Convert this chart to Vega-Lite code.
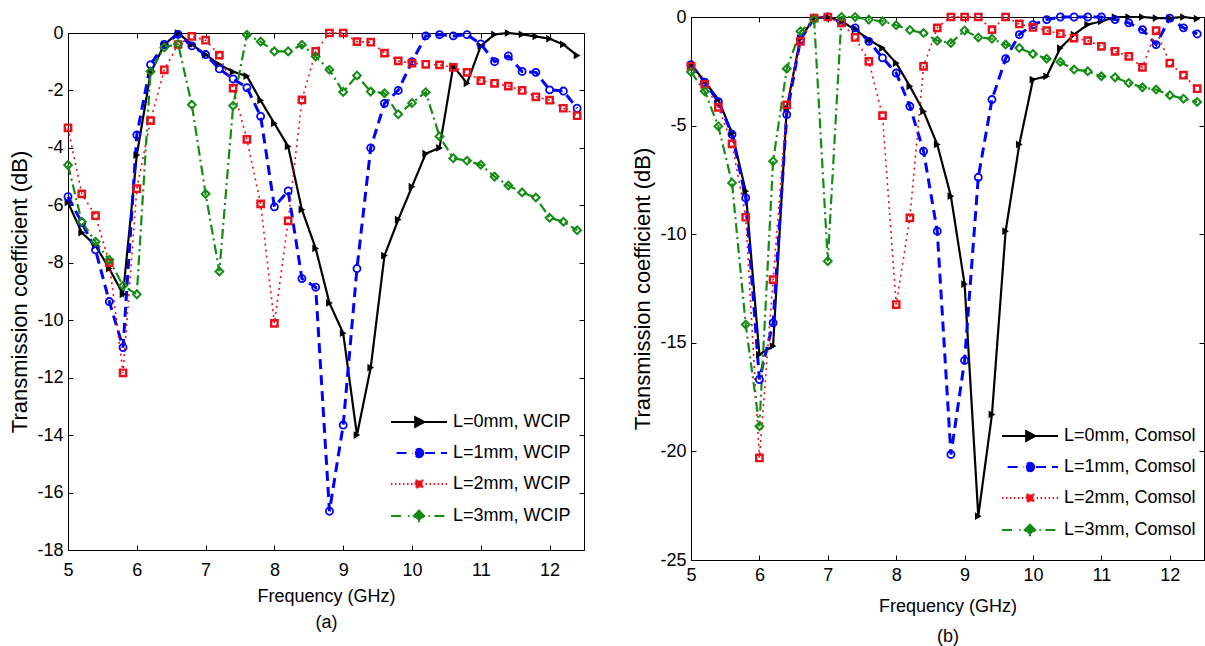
{
"$schema": "https://vega.github.io/schema/vega-lite/v6.json",
"padding": {"left": 8, "top": 7, "right": 0, "bottom": 0},
"spacing": 45,
"resolve": {"scale": {"color": "independent", "shape": "independent", "strokeDash": "independent"}, "legend": {"color": "independent", "shape": "independent", "strokeDash": "independent"}},
"config": {
  "font": "Liberation Sans",
  "view": {"stroke": "black", "strokeWidth": 1},
  "axis": {"grid": false, "domainColor": "black", "tickColor": "black", "labelColor": "black", "titleColor": "black", "labelFont": "Liberation Sans", "titleFont": "Liberation Sans", "labelFontSize": 18, "titleFontSize": 18, "titleFontWeight": "normal", "tickSize": -5, "labelFlush": false, "labelOverlap": false, "labelExpr": "'' + datum.value"},
  "legend": {"labelFont": "Liberation Sans", "labelFontSize": 18, "labelColor": "black"}
},
"datasets": {
"wcip": [
{"s":"L=0mm, WCIP","f":5,"v":-5.9},{"s":"L=0mm, WCIP","f":5.2,"v":-6.95},{"s":"L=0mm, WCIP","f":5.4,"v":-7.4},{"s":"L=0mm, WCIP","f":5.6,"v":-8.2},{"s":"L=0mm, WCIP","f":5.8,"v":-9.1},{"s":"L=0mm, WCIP","f":6,"v":-4.25},{"s":"L=0mm, WCIP","f":6.2,"v":-1.4},{"s":"L=0mm, WCIP","f":6.4,"v":-0.4},{"s":"L=0mm, WCIP","f":6.6,"v":0},{"s":"L=0mm, WCIP","f":6.8,"v":-0.4},{"s":"L=0mm, WCIP","f":7,"v":-0.75},{"s":"L=0mm, WCIP","f":7.2,"v":-1.1},{"s":"L=0mm, WCIP","f":7.4,"v":-1.35},{"s":"L=0mm, WCIP","f":7.6,"v":-1.5},{"s":"L=0mm, WCIP","f":7.8,"v":-2.35},{"s":"L=0mm, WCIP","f":8,"v":-3.15},{"s":"L=0mm, WCIP","f":8.2,"v":-3.95},{"s":"L=0mm, WCIP","f":8.4,"v":-6.15},{"s":"L=0mm, WCIP","f":8.6,"v":-7.5},{"s":"L=0mm, WCIP","f":8.8,"v":-9.4},{"s":"L=0mm, WCIP","f":9,"v":-10.45},{"s":"L=0mm, WCIP","f":9.2,"v":-14},{"s":"L=0mm, WCIP","f":9.4,"v":-11.65},{"s":"L=0mm, WCIP","f":9.6,"v":-7.75},{"s":"L=0mm, WCIP","f":9.8,"v":-6.5},{"s":"L=0mm, WCIP","f":10,"v":-5.35},{"s":"L=0mm, WCIP","f":10.2,"v":-4.2},{"s":"L=0mm, WCIP","f":10.4,"v":-4},{"s":"L=0mm, WCIP","f":10.6,"v":-1.15},{"s":"L=0mm, WCIP","f":10.8,"v":-1.75},{"s":"L=0mm, WCIP","f":11,"v":-0.45},{"s":"L=0mm, WCIP","f":11.2,"v":-0.05},{"s":"L=0mm, WCIP","f":11.4,"v":0},{"s":"L=0mm, WCIP","f":11.6,"v":-0.05},{"s":"L=0mm, WCIP","f":11.8,"v":-0.12},{"s":"L=0mm, WCIP","f":12,"v":-0.2},{"s":"L=0mm, WCIP","f":12.2,"v":-0.4},{"s":"L=0mm, WCIP","f":12.4,"v":-0.78},
{"s":"L=1mm, WCIP","f":5,"v":-5.7},{"s":"L=1mm, WCIP","f":5.2,"v":-6.6},{"s":"L=1mm, WCIP","f":5.4,"v":-7.55},{"s":"L=1mm, WCIP","f":5.6,"v":-9.35},{"s":"L=1mm, WCIP","f":5.8,"v":-10.95},{"s":"L=1mm, WCIP","f":6,"v":-3.55},{"s":"L=1mm, WCIP","f":6.2,"v":-1.1},{"s":"L=1mm, WCIP","f":6.4,"v":-0.4},{"s":"L=1mm, WCIP","f":6.6,"v":-0.05},{"s":"L=1mm, WCIP","f":6.8,"v":-0.45},{"s":"L=1mm, WCIP","f":7,"v":-0.75},{"s":"L=1mm, WCIP","f":7.2,"v":-1.25},{"s":"L=1mm, WCIP","f":7.4,"v":-1.6},{"s":"L=1mm, WCIP","f":7.6,"v":-1.9},{"s":"L=1mm, WCIP","f":7.8,"v":-2.9},{"s":"L=1mm, WCIP","f":8,"v":-6.05},{"s":"L=1mm, WCIP","f":8.2,"v":-5.5},{"s":"L=1mm, WCIP","f":8.4,"v":-8.55},{"s":"L=1mm, WCIP","f":8.6,"v":-8.85},{"s":"L=1mm, WCIP","f":8.8,"v":-16.65},{"s":"L=1mm, WCIP","f":9,"v":-13.65},{"s":"L=1mm, WCIP","f":9.2,"v":-8.2},{"s":"L=1mm, WCIP","f":9.4,"v":-4},{"s":"L=1mm, WCIP","f":9.6,"v":-2.45},{"s":"L=1mm, WCIP","f":9.8,"v":-2},{"s":"L=1mm, WCIP","f":10,"v":-1},{"s":"L=1mm, WCIP","f":10.2,"v":-0.1},{"s":"L=1mm, WCIP","f":10.4,"v":-0.06},{"s":"L=1mm, WCIP","f":10.6,"v":-0.1},{"s":"L=1mm, WCIP","f":10.8,"v":-0.06},{"s":"L=1mm, WCIP","f":11,"v":-0.38},{"s":"L=1mm, WCIP","f":11.2,"v":-1},{"s":"L=1mm, WCIP","f":11.4,"v":-0.8},{"s":"L=1mm, WCIP","f":11.6,"v":-1.34},{"s":"L=1mm, WCIP","f":11.8,"v":-1.37},{"s":"L=1mm, WCIP","f":12,"v":-1.98},{"s":"L=1mm, WCIP","f":12.2,"v":-2.02},{"s":"L=1mm, WCIP","f":12.4,"v":-2.62},
{"s":"L=2mm, WCIP","f":5,"v":-3.3},{"s":"L=2mm, WCIP","f":5.2,"v":-5.6},{"s":"L=2mm, WCIP","f":5.4,"v":-6.36},{"s":"L=2mm, WCIP","f":5.6,"v":-8},{"s":"L=2mm, WCIP","f":5.8,"v":-11.83},{"s":"L=2mm, WCIP","f":6,"v":-5.42},{"s":"L=2mm, WCIP","f":6.2,"v":-3.05},{"s":"L=2mm, WCIP","f":6.4,"v":-1.28},{"s":"L=2mm, WCIP","f":6.6,"v":-0.4},{"s":"L=2mm, WCIP","f":6.8,"v":-0.12},{"s":"L=2mm, WCIP","f":7,"v":-0.25},{"s":"L=2mm, WCIP","f":7.2,"v":-0.77},{"s":"L=2mm, WCIP","f":7.4,"v":-1.92},{"s":"L=2mm, WCIP","f":7.6,"v":-3.7},{"s":"L=2mm, WCIP","f":7.8,"v":-5.95},{"s":"L=2mm, WCIP","f":8,"v":-10.11},{"s":"L=2mm, WCIP","f":8.2,"v":-6.54},{"s":"L=2mm, WCIP","f":8.4,"v":-2.33},{"s":"L=2mm, WCIP","f":8.6,"v":-0.64},{"s":"L=2mm, WCIP","f":8.8,"v":0},{"s":"L=2mm, WCIP","f":9,"v":0},{"s":"L=2mm, WCIP","f":9.2,"v":-0.3},{"s":"L=2mm, WCIP","f":9.4,"v":-0.32},{"s":"L=2mm, WCIP","f":9.6,"v":-0.7},{"s":"L=2mm, WCIP","f":9.8,"v":-0.97},{"s":"L=2mm, WCIP","f":10,"v":-1.05},{"s":"L=2mm, WCIP","f":10.2,"v":-1.09},{"s":"L=2mm, WCIP","f":10.4,"v":-1.11},{"s":"L=2mm, WCIP","f":10.6,"v":-1.2},{"s":"L=2mm, WCIP","f":10.8,"v":-1.37},{"s":"L=2mm, WCIP","f":11,"v":-1.66},{"s":"L=2mm, WCIP","f":11.2,"v":-1.75},{"s":"L=2mm, WCIP","f":11.4,"v":-1.85},{"s":"L=2mm, WCIP","f":11.6,"v":-2},{"s":"L=2mm, WCIP","f":11.8,"v":-2.22},{"s":"L=2mm, WCIP","f":12,"v":-2.34},{"s":"L=2mm, WCIP","f":12.2,"v":-2.62},{"s":"L=2mm, WCIP","f":12.4,"v":-2.88},
{"s":"L=3mm, WCIP","f":5,"v":-4.6},{"s":"L=3mm, WCIP","f":5.2,"v":-6.57},{"s":"L=3mm, WCIP","f":5.4,"v":-7.27},{"s":"L=3mm, WCIP","f":5.6,"v":-7.9},{"s":"L=3mm, WCIP","f":5.8,"v":-8.8},{"s":"L=3mm, WCIP","f":6,"v":-9.1},{"s":"L=3mm, WCIP","f":6.2,"v":-1.34},{"s":"L=3mm, WCIP","f":6.4,"v":-0.5},{"s":"L=3mm, WCIP","f":6.6,"v":-0.38},{"s":"L=3mm, WCIP","f":6.8,"v":-2.5},{"s":"L=3mm, WCIP","f":7,"v":-5.6},{"s":"L=3mm, WCIP","f":7.2,"v":-8.3},{"s":"L=3mm, WCIP","f":7.4,"v":-2.53},{"s":"L=3mm, WCIP","f":7.6,"v":-0.06},{"s":"L=3mm, WCIP","f":7.8,"v":-0.3},{"s":"L=3mm, WCIP","f":8,"v":-0.64},{"s":"L=3mm, WCIP","f":8.2,"v":-0.64},{"s":"L=3mm, WCIP","f":8.4,"v":-0.41},{"s":"L=3mm, WCIP","f":8.6,"v":-0.82},{"s":"L=3mm, WCIP","f":8.8,"v":-1.28},{"s":"L=3mm, WCIP","f":9,"v":-2.05},{"s":"L=3mm, WCIP","f":9.2,"v":-1.48},{"s":"L=3mm, WCIP","f":9.4,"v":-2.04},{"s":"L=3mm, WCIP","f":9.6,"v":-2.1},{"s":"L=3mm, WCIP","f":9.8,"v":-2.83},{"s":"L=3mm, WCIP","f":10,"v":-2.44},{"s":"L=3mm, WCIP","f":10.2,"v":-2.06},{"s":"L=3mm, WCIP","f":10.4,"v":-3.6},{"s":"L=3mm, WCIP","f":10.6,"v":-4.36},{"s":"L=3mm, WCIP","f":10.8,"v":-4.45},{"s":"L=3mm, WCIP","f":11,"v":-4.59},{"s":"L=3mm, WCIP","f":11.2,"v":-5},{"s":"L=3mm, WCIP","f":11.4,"v":-5.31},{"s":"L=3mm, WCIP","f":11.6,"v":-5.55},{"s":"L=3mm, WCIP","f":11.8,"v":-5.73},{"s":"L=3mm, WCIP","f":12,"v":-6.43},{"s":"L=3mm, WCIP","f":12.2,"v":-6.57},{"s":"L=3mm, WCIP","f":12.4,"v":-6.87}
],
"comsol": [
{"s":"L=0mm, Comsol","f":5,"v":-2.19},{"s":"L=0mm, Comsol","f":5.2,"v":-2.96},{"s":"L=0mm, Comsol","f":5.4,"v":-3.8},{"s":"L=0mm, Comsol","f":5.6,"v":-5.34},{"s":"L=0mm, Comsol","f":5.8,"v":-8.02},{"s":"L=0mm, Comsol","f":6,"v":-15.54},{"s":"L=0mm, Comsol","f":6.2,"v":-15.15},{"s":"L=0mm, Comsol","f":6.4,"v":-4.19},{"s":"L=0mm, Comsol","f":6.6,"v":-0.97},{"s":"L=0mm, Comsol","f":6.8,"v":-0.05},{"s":"L=0mm, Comsol","f":7,"v":0},{"s":"L=0mm, Comsol","f":7.2,"v":-0.2},{"s":"L=0mm, Comsol","f":7.4,"v":-0.58},{"s":"L=0mm, Comsol","f":7.6,"v":-1.04},{"s":"L=0mm, Comsol","f":7.8,"v":-1.43},{"s":"L=0mm, Comsol","f":8,"v":-2.12},{"s":"L=0mm, Comsol","f":8.2,"v":-3.19},{"s":"L=0mm, Comsol","f":8.4,"v":-4.34},{"s":"L=0mm, Comsol","f":8.6,"v":-5.87},{"s":"L=0mm, Comsol","f":8.8,"v":-8.25},{"s":"L=0mm, Comsol","f":9,"v":-12.3},{"s":"L=0mm, Comsol","f":9.2,"v":-22.98},{"s":"L=0mm, Comsol","f":9.4,"v":-18.3},{"s":"L=0mm, Comsol","f":9.6,"v":-9.86},{"s":"L=0mm, Comsol","f":9.8,"v":-5.87},{"s":"L=0mm, Comsol","f":10,"v":-2.88},{"s":"L=0mm, Comsol","f":10.2,"v":-2.73},{"s":"L=0mm, Comsol","f":10.4,"v":-1.43},{"s":"L=0mm, Comsol","f":10.6,"v":-0.81},{"s":"L=0mm, Comsol","f":10.8,"v":-0.35},{"s":"L=0mm, Comsol","f":11,"v":-0.2},{"s":"L=0mm, Comsol","f":11.2,"v":0},{"s":"L=0mm, Comsol","f":11.4,"v":0},{"s":"L=0mm, Comsol","f":11.6,"v":0},{"s":"L=0mm, Comsol","f":11.8,"v":-0.05},{"s":"L=0mm, Comsol","f":12,"v":-0.05},{"s":"L=0mm, Comsol","f":12.2,"v":0},{"s":"L=0mm, Comsol","f":12.4,"v":-0.08},
{"s":"L=1mm, Comsol","f":5,"v":-2.2},{"s":"L=1mm, Comsol","f":5.2,"v":-3},{"s":"L=1mm, Comsol","f":5.4,"v":-3.9},{"s":"L=1mm, Comsol","f":5.6,"v":-5.4},{"s":"L=1mm, Comsol","f":5.8,"v":-8.33},{"s":"L=1mm, Comsol","f":6,"v":-16.69},{"s":"L=1mm, Comsol","f":6.2,"v":-14.08},{"s":"L=1mm, Comsol","f":6.4,"v":-4.49},{"s":"L=1mm, Comsol","f":6.6,"v":-1.04},{"s":"L=1mm, Comsol","f":6.8,"v":-0.05},{"s":"L=1mm, Comsol","f":7,"v":0},{"s":"L=1mm, Comsol","f":7.2,"v":-0.27},{"s":"L=1mm, Comsol","f":7.4,"v":-0.5},{"s":"L=1mm, Comsol","f":7.6,"v":-1.12},{"s":"L=1mm, Comsol","f":7.8,"v":-1.88},{"s":"L=1mm, Comsol","f":8,"v":-2.58},{"s":"L=1mm, Comsol","f":8.2,"v":-4.11},{"s":"L=1mm, Comsol","f":8.4,"v":-6.18},{"s":"L=1mm, Comsol","f":8.6,"v":-9.86},{"s":"L=1mm, Comsol","f":8.8,"v":-20.14},{"s":"L=1mm, Comsol","f":9,"v":-15.81},{"s":"L=1mm, Comsol","f":9.2,"v":-7.38},{"s":"L=1mm, Comsol","f":9.4,"v":-3.8},{"s":"L=1mm, Comsol","f":9.6,"v":-1.92},{"s":"L=1mm, Comsol","f":9.8,"v":-0.81},{"s":"L=1mm, Comsol","f":10,"v":-0.35},{"s":"L=1mm, Comsol","f":10.2,"v":-0.12},{"s":"L=1mm, Comsol","f":10.4,"v":0},{"s":"L=1mm, Comsol","f":10.6,"v":0},{"s":"L=1mm, Comsol","f":10.8,"v":0},{"s":"L=1mm, Comsol","f":11,"v":0},{"s":"L=1mm, Comsol","f":11.2,"v":-0.12},{"s":"L=1mm, Comsol","f":11.4,"v":-0.27},{"s":"L=1mm, Comsol","f":11.6,"v":-0.58},{"s":"L=1mm, Comsol","f":11.8,"v":-1.27},{"s":"L=1mm, Comsol","f":12,"v":-0.05},{"s":"L=1mm, Comsol","f":12.2,"v":-0.5},{"s":"L=1mm, Comsol","f":12.4,"v":-0.78},
{"s":"L=2mm, Comsol","f":5,"v":-2.27},{"s":"L=2mm, Comsol","f":5.2,"v":-3.1},{"s":"L=2mm, Comsol","f":5.4,"v":-4.16},{"s":"L=2mm, Comsol","f":5.6,"v":-5.84},{"s":"L=2mm, Comsol","f":5.8,"v":-9.22},{"s":"L=2mm, Comsol","f":6,"v":-20.3},{"s":"L=2mm, Comsol","f":6.2,"v":-12.09},{"s":"L=2mm, Comsol","f":6.4,"v":-4.05},{"s":"L=2mm, Comsol","f":6.6,"v":-1.12},{"s":"L=2mm, Comsol","f":6.8,"v":-0.05},{"s":"L=2mm, Comsol","f":7,"v":0},{"s":"L=2mm, Comsol","f":7.2,"v":-0.27},{"s":"L=2mm, Comsol","f":7.4,"v":-0.94},{"s":"L=2mm, Comsol","f":7.6,"v":-2.04},{"s":"L=2mm, Comsol","f":7.8,"v":-4.54},{"s":"L=2mm, Comsol","f":8,"v":-13.24},{"s":"L=2mm, Comsol","f":8.2,"v":-9.25},{"s":"L=2mm, Comsol","f":8.4,"v":-2.27},{"s":"L=2mm, Comsol","f":8.6,"v":-0.5},{"s":"L=2mm, Comsol","f":8.8,"v":0},{"s":"L=2mm, Comsol","f":9,"v":0},{"s":"L=2mm, Comsol","f":9.2,"v":0},{"s":"L=2mm, Comsol","f":9.4,"v":-0.58},{"s":"L=2mm, Comsol","f":9.6,"v":0},{"s":"L=2mm, Comsol","f":9.8,"v":-0.32},{"s":"L=2mm, Comsol","f":10,"v":-0.48},{"s":"L=2mm, Comsol","f":10.2,"v":-0.63},{"s":"L=2mm, Comsol","f":10.4,"v":-0.77},{"s":"L=2mm, Comsol","f":10.6,"v":-0.97},{"s":"L=2mm, Comsol","f":10.8,"v":-1.09},{"s":"L=2mm, Comsol","f":11,"v":-1.35},{"s":"L=2mm, Comsol","f":11.2,"v":-1.58},{"s":"L=2mm, Comsol","f":11.4,"v":-1.81},{"s":"L=2mm, Comsol","f":11.6,"v":-2.32},{"s":"L=2mm, Comsol","f":11.8,"v":-0.63},{"s":"L=2mm, Comsol","f":12,"v":-2.12},{"s":"L=2mm, Comsol","f":12.2,"v":-2.68},{"s":"L=2mm, Comsol","f":12.4,"v":-3.3},
{"s":"L=3mm, Comsol","f":5,"v":-2.53},{"s":"L=3mm, Comsol","f":5.2,"v":-3.42},{"s":"L=3mm, Comsol","f":5.4,"v":-5.03},{"s":"L=3mm, Comsol","f":5.6,"v":-7.64},{"s":"L=3mm, Comsol","f":5.8,"v":-14.16},{"s":"L=3mm, Comsol","f":6,"v":-18.84},{"s":"L=3mm, Comsol","f":6.2,"v":-6.64},{"s":"L=3mm, Comsol","f":6.4,"v":-2.38},{"s":"L=3mm, Comsol","f":6.6,"v":-0.66},{"s":"L=3mm, Comsol","f":6.8,"v":-0.12},{"s":"L=3mm, Comsol","f":7,"v":-11.24},{"s":"L=3mm, Comsol","f":7.2,"v":0},{"s":"L=3mm, Comsol","f":7.4,"v":0},{"s":"L=3mm, Comsol","f":7.6,"v":-0.12},{"s":"L=3mm, Comsol","f":7.8,"v":-0.2},{"s":"L=3mm, Comsol","f":8,"v":-0.38},{"s":"L=3mm, Comsol","f":8.2,"v":-0.6},{"s":"L=3mm, Comsol","f":8.4,"v":-0.74},{"s":"L=3mm, Comsol","f":8.6,"v":-1.09},{"s":"L=3mm, Comsol","f":8.8,"v":-1.2},{"s":"L=3mm, Comsol","f":9,"v":-0.62},{"s":"L=3mm, Comsol","f":9.2,"v":-0.94},{"s":"L=3mm, Comsol","f":9.4,"v":-1},{"s":"L=3mm, Comsol","f":9.6,"v":-1.27},{"s":"L=3mm, Comsol","f":9.8,"v":-1.43},{"s":"L=3mm, Comsol","f":10,"v":-1.7},{"s":"L=3mm, Comsol","f":10.2,"v":-1.92},{"s":"L=3mm, Comsol","f":10.4,"v":-2.07},{"s":"L=3mm, Comsol","f":10.6,"v":-2.42},{"s":"L=3mm, Comsol","f":10.8,"v":-2.5},{"s":"L=3mm, Comsol","f":11,"v":-2.73},{"s":"L=3mm, Comsol","f":11.2,"v":-2.78},{"s":"L=3mm, Comsol","f":11.4,"v":-3.04},{"s":"L=3mm, Comsol","f":11.6,"v":-3.24},{"s":"L=3mm, Comsol","f":11.8,"v":-3.34},{"s":"L=3mm, Comsol","f":12,"v":-3.6},{"s":"L=3mm, Comsol","f":12.2,"v":-3.76},{"s":"L=3mm, Comsol","f":12.4,"v":-3.91}
]
},
"hconcat": [
{
 "spacing": 0,
 "vconcat": [
 {"width": 516, "height": 6, "data": {"values": []}, "mark": "point", "view": {"stroke": null}},
 {
  "width": 516, "height": 517,
  "data": {"name": "wcip"},
  "resolve": {"axis": {"x": "independent", "y": "independent"}},
  "layer": [
    {"mark": {"type": "line"},
     "encoding": {
      "x": {"field": "f", "type": "quantitative", "scale": {"domain": [5, 12.5], "nice": false, "zero": false}, "axis": {"values": [5,6,7,8,9,10,11,12], "title": ["Frequency (GHz)", "(a)"], "labelPadding": 16, "titlePadding": 8, "titleLineHeight": 26}},
      "y": {"field": "v", "type": "quantitative", "scale": {"domain": [-18, 0], "nice": false}, "axis": {"values": [0,-2,-4,-6,-8,-10,-12,-14,-16,-18], "title": "Transmission coefficient (dB)", "titleFontSize": 22, "labelPadding": 10, "titlePadding": 5}},
      "color": {"field": "s", "type": "nominal", "scale": {"domain": ["L=0mm, WCIP","L=1mm, WCIP","L=2mm, WCIP","L=3mm, WCIP"], "range": ["#000000","#0000ff","#e8101a","#148c14"]}},
      "strokeDash": {"field": "s", "type": "nominal", "scale": {"domain": ["L=0mm, WCIP","L=1mm, WCIP","L=2mm, WCIP","L=3mm, WCIP"], "range": [[1,0],[10,6],[2,4],[10,4,2,4]]}, "legend": null},
      "strokeWidth": {"condition": [{"test": "datum.s == 'L=1mm, WCIP'", "value": 3}, {"test": "datum.s == 'L=2mm, WCIP'", "value": 1.6}], "value": 2.2}
     }},
    {"transform": [{"filter": "datum.s == 'L=0mm, WCIP'"}],
     "mark": {"type": "point", "shape": "triangle-right", "filled": true, "size": 60, "opacity": 1},
     "encoding": {"x": {"field": "f", "type": "quantitative", "axis": null}, "y": {"field": "v", "type": "quantitative", "axis": null},
      "color": {"field": "s", "type": "nominal"}}},
    {"transform": [{"filter": "datum.s == 'L=1mm, WCIP'"}],
     "mark": {"type": "point", "shape": "circle", "filled": false, "size": 50, "strokeWidth": 1.8, "opacity": 1},
     "encoding": {"x": {"field": "f", "type": "quantitative", "axis": null}, "y": {"field": "v", "type": "quantitative", "axis": null},
      "color": {"field": "s", "type": "nominal"}}},
    {"transform": [{"filter": "datum.s == 'L=2mm, WCIP'"}],
     "mark": {"type": "point", "shape": "square", "filled": false, "size": 40, "strokeWidth": 2.4, "opacity": 1},
     "encoding": {"x": {"field": "f", "type": "quantitative", "axis": null}, "y": {"field": "v", "type": "quantitative", "axis": null},
      "color": {"field": "s", "type": "nominal"}}},
    {"transform": [{"filter": "datum.s == 'L=3mm, WCIP'"}],
     "mark": {"type": "point", "shape": "diamond", "filled": false, "size": 60, "strokeWidth": 2, "opacity": 1},
     "encoding": {"x": {"field": "f", "type": "quantitative", "axis": null}, "y": {"field": "v", "type": "quantitative", "axis": null},
      "color": {"field": "s", "type": "nominal"}}},
    {"transform": [{"filter": "false"}],
     "mark": {"type": "point", "filled": false, "size": 196, "strokeWidth": 2, "opacity": 1},
     "encoding": {
      "x": {"field": "f", "type": "quantitative", "axis": {"orient": "top", "labels": false, "title": null, "values": [5,6,7,8,9,10,11,12]}},
      "y": {"field": "v", "type": "quantitative", "axis": {"orient": "right", "labels": false, "title": null, "values": [0,-2,-4,-6,-8,-10,-12,-14,-16,-18]}},
      "color": {"field": "s", "type": "nominal", "legend": {"orient": "none", "legendX": 342, "legendY": 396, "title": null, "labelOffset": 25, "rowPadding": 13, "symbolSize": 196, "symbolStrokeWidth": 2, "padding": 0,
         "encode": {"symbols": {"fill": {"condition": [{"test": "indexof(datum.value,'0mm')>=0", "value": "#000000"}, {"test": "indexof(datum.value,'3mm')>=0", "value": "#148c14"}], "value": "#ffffff"}}}}},
      "shape": {"field": "s", "type": "nominal", "scale": {"domain": ["L=0mm, WCIP","L=1mm, WCIP","L=2mm, WCIP","L=3mm, WCIP"], "range": [
         "M-4,0H4M-0.55,-0.7L0.75,0L-0.55,0.7Z",
         "M-3.2,0H-0.85M0.85,0H4M0.6,0A0.6,0.6,0,1,1,-0.6,0A0.6,0.6,0,1,1,0.6,0Z",
         "M-4,0H-3.8M-3.43,0H-3.23M-2.86,0H-2.66M-2.29,0H-2.09M-1.71,0H-1.51M-1.14,0H-0.94M0.94,0H1.14M1.51,0H1.71M2.09,0H2.29M2.66,0H2.86M3.23,0H3.43M3.8,0H4M-0.5,-0.5H0.5V0.5H-0.5Z",
         "M-4,0H-2.2M-1.55,0H-1.35M1.35,0H1.55M2.2,0H4M0,-0.75L0.75,0L0,0.75L-0.75,0Z"]},
         "legend": {"orient": "none", "legendX": 342, "legendY": 396, "title": null, "labelOffset": 25, "rowPadding": 13, "symbolSize": 196, "symbolStrokeWidth": 2, "padding": 0,
         "encode": {"symbols": {"fill": {"condition": [{"test": "indexof(datum.value,'0mm')>=0", "value": "#000000"}, {"test": "indexof(datum.value,'3mm')>=0", "value": "#148c14"}], "value": "#ffffff"}}}}}
     }}
  ]
 }
 ]
},
{
  "width": 513, "height": 543,
  "data": {"name": "comsol"},
  "resolve": {"axis": {"x": "independent", "y": "independent"}},
  "layer": [
    {"mark": {"type": "line"},
     "encoding": {
      "x": {"field": "f", "type": "quantitative", "scale": {"domain": [5, 12.5], "nice": false, "zero": false}, "axis": {"values": [5,6,7,8,9,10,11,12], "title": ["Frequency (GHz)", "(b)"], "labelPadding": 11, "titlePadding": 13, "titleLineHeight": 30}},
      "y": {"field": "v", "type": "quantitative", "scale": {"domain": [-25, 0], "nice": false}, "axis": {"values": [0,-5,-10,-15,-20,-25], "title": "Transmission coefficient (dB)", "titleFontSize": 22, "labelPadding": 10, "titlePadding": 5}},
      "color": {"field": "s", "type": "nominal", "scale": {"domain": ["L=0mm, Comsol","L=1mm, Comsol","L=2mm, Comsol","L=3mm, Comsol"], "range": ["#000000","#0000ff","#e8101a","#148c14"]}},
      "strokeDash": {"field": "s", "type": "nominal", "scale": {"domain": ["L=0mm, Comsol","L=1mm, Comsol","L=2mm, Comsol","L=3mm, Comsol"], "range": [[1,0],[10,6],[2,4],[10,4,2,4]]}, "legend": null},
      "strokeWidth": {"condition": [{"test": "datum.s == 'L=1mm, Comsol'", "value": 3}, {"test": "datum.s == 'L=2mm, Comsol'", "value": 1.6}], "value": 2.2}
     }},
    {"transform": [{"filter": "datum.s == 'L=0mm, Comsol'"}],
     "mark": {"type": "point", "shape": "triangle-right", "filled": true, "size": 60, "opacity": 1},
     "encoding": {"x": {"field": "f", "type": "quantitative", "axis": null}, "y": {"field": "v", "type": "quantitative", "axis": null},
      "color": {"field": "s", "type": "nominal"}}},
    {"transform": [{"filter": "datum.s == 'L=1mm, Comsol'"}],
     "mark": {"type": "point", "shape": "circle", "filled": false, "size": 50, "strokeWidth": 1.8, "opacity": 1},
     "encoding": {"x": {"field": "f", "type": "quantitative", "axis": null}, "y": {"field": "v", "type": "quantitative", "axis": null},
      "color": {"field": "s", "type": "nominal"}}},
    {"transform": [{"filter": "datum.s == 'L=2mm, Comsol'"}],
     "mark": {"type": "point", "shape": "square", "filled": false, "size": 40, "strokeWidth": 2.4, "opacity": 1},
     "encoding": {"x": {"field": "f", "type": "quantitative", "axis": null}, "y": {"field": "v", "type": "quantitative", "axis": null},
      "color": {"field": "s", "type": "nominal"}}},
    {"transform": [{"filter": "datum.s == 'L=3mm, Comsol'"}],
     "mark": {"type": "point", "shape": "diamond", "filled": false, "size": 60, "strokeWidth": 2, "opacity": 1},
     "encoding": {"x": {"field": "f", "type": "quantitative", "axis": null}, "y": {"field": "v", "type": "quantitative", "axis": null},
      "color": {"field": "s", "type": "nominal"}}},
    {"transform": [{"filter": "false"}],
     "mark": {"type": "point", "filled": false, "size": 196, "strokeWidth": 2, "opacity": 1},
     "encoding": {
      "x": {"field": "f", "type": "quantitative", "axis": {"orient": "top", "labels": false, "title": null, "values": [5,6,7,8,9,10,11,12]}},
      "y": {"field": "v", "type": "quantitative", "axis": {"orient": "right", "labels": false, "title": null, "values": [0,-5,-10,-15,-20,-25]}},
      "color": {"field": "s", "type": "nominal", "legend": {"orient": "none", "legendX": 330, "legendY": 410, "title": null, "labelOffset": 25, "rowPadding": 13, "symbolSize": 196, "symbolStrokeWidth": 2, "padding": 0,
         "encode": {"symbols": {"fill": {"condition": [{"test": "indexof(datum.value,'0mm')>=0", "value": "#000000"}, {"test": "indexof(datum.value,'3mm')>=0", "value": "#148c14"}], "value": "#ffffff"}}}}},
      "shape": {"field": "s", "type": "nominal", "scale": {"domain": ["L=0mm, Comsol","L=1mm, Comsol","L=2mm, Comsol","L=3mm, Comsol"], "range": [
         "M-4,0H4M-0.55,-0.7L0.75,0L-0.55,0.7Z",
         "M-3.2,0H-0.85M0.85,0H4M0.6,0A0.6,0.6,0,1,1,-0.6,0A0.6,0.6,0,1,1,0.6,0Z",
         "M-4,0H-3.8M-3.43,0H-3.23M-2.86,0H-2.66M-2.29,0H-2.09M-1.71,0H-1.51M-1.14,0H-0.94M0.94,0H1.14M1.51,0H1.71M2.09,0H2.29M2.66,0H2.86M3.23,0H3.43M3.8,0H4M-0.5,-0.5H0.5V0.5H-0.5Z",
         "M-4,0H-2.2M-1.55,0H-1.35M1.35,0H1.55M2.2,0H4M0,-0.75L0.75,0L0,0.75L-0.75,0Z"]},
         "legend": {"orient": "none", "legendX": 330, "legendY": 410, "title": null, "labelOffset": 25, "rowPadding": 13, "symbolSize": 196, "symbolStrokeWidth": 2, "padding": 0,
         "encode": {"symbols": {"fill": {"condition": [{"test": "indexof(datum.value,'0mm')>=0", "value": "#000000"}, {"test": "indexof(datum.value,'3mm')>=0", "value": "#148c14"}], "value": "#ffffff"}}}}}
     }}
  ]
}
]
}
